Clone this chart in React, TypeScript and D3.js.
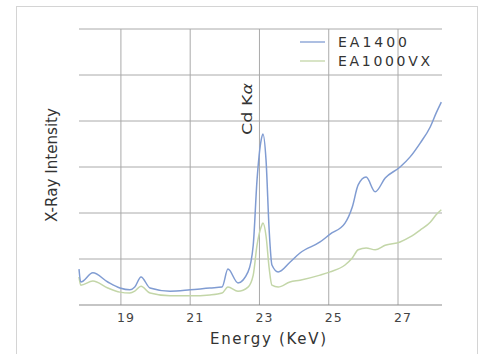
import { useEffect, useRef } from "react";
import * as d3 from "d3";

// energy (KeV) sample positions
const energy = [
  17.79, 17.84, 18.19, 18.62, 18.97, 19.26, 19.4, 19.58, 19.84, 20.42, 21.0,
  21.57, 21.92, 22.09, 22.38, 22.67, 22.82, 22.93, 23.05, 23.1, 23.19, 23.28,
  23.36, 23.54, 23.88, 24.17, 24.75, 25.04, 25.47, 25.68, 25.85, 26.08, 26.34,
  26.63, 27.06, 27.35, 27.64, 27.93, 28.1, 28.25,
];

const ea1400 = [
  0.78, 0.5, 0.7, 0.5, 0.37, 0.33, 0.39, 0.61, 0.37, 0.3, 0.33, 0.37, 0.39,
  0.78, 0.48, 0.72, 1.3, 2.72, 3.59, 3.72, 3.15, 1.63, 0.87, 0.72, 0.93, 1.13,
  1.37, 1.54, 1.78, 2.13, 2.61, 2.78, 2.46, 2.76, 3.0, 3.22, 3.52, 3.87, 4.17,
  4.41,
];

const ea1000vx = [
  0.61, 0.43, 0.52, 0.37, 0.28, 0.26, 0.3, 0.41, 0.26, 0.2, 0.2, 0.22, 0.26,
  0.39, 0.3, 0.39, 0.65, 1.3, 1.7, 1.78, 1.5, 0.8, 0.43, 0.39, 0.5, 0.54, 0.65,
  0.72, 0.87, 1.02, 1.2, 1.24, 1.2, 1.3, 1.37, 1.48, 1.63, 1.8, 1.96, 2.07,
];

const xTicks = [19, 21, 23, 25, 27];
const yGrid = [0, 1, 2, 3, 4, 5, 6];

const seriesNames = ["EA1400", "EA1000VX"];
const seriesColors = ["#809cd2", "#c3d6a8"];

const W = 482;
const H = 354;
const FONT = "DejaVu Sans, Verdana, sans-serif";

export default function App() {
  const svgRef = useRef<SVGSVGElement>(null);

  useEffect(() => {
    const svg = d3.select(svgRef.current);
    svg.selectAll("*").remove();

    const x = d3.scaleLinear().domain([17.79, 28.27]).range([79, 442]);
    const y = d3.scaleLinear().domain([0, 6]).range([305, 29]);

    // outer frame
    svg
      .append("rect")
      .attr("x", 16.5)
      .attr("y", 6.5)
      .attr("width", 461)
      .attr("height", 360)
      .attr("fill", "#fff")
      .attr("stroke", "#d4d4d4");

    // grid
    svg
      .append("g")
      .selectAll("line")
      .data(yGrid.slice(1))
      .enter()
      .append("line")
      .attr("x1", x.range()[0])
      .attr("x2", x.range()[1])
      .attr("y1", (d) => y(d))
      .attr("y2", (d) => y(d))
      .attr("stroke", "#aaaaaa")
      .attr("stroke-width", 1);

    svg
      .append("g")
      .selectAll("line")
      .data(xTicks)
      .enter()
      .append("line")
      .attr("x1", (d) => x(d))
      .attr("x2", (d) => x(d))
      .attr("y1", y(6))
      .attr("y2", y(0))
      .attr("stroke", "#aaaaaa")
      .attr("stroke-width", 1);

    // bottom axis line
    svg
      .append("line")
      .attr("x1", x.range()[0])
      .attr("x2", x.range()[1])
      .attr("y1", y(0))
      .attr("y2", y(0))
      .attr("stroke", "#8c8c8c")
      .attr("stroke-width", 1.2);

    // tick labels (sit a little right of their gridlines in the original)
    svg
      .append("g")
      .selectAll("text")
      .data(xTicks)
      .enter()
      .append("text")
      .attr("x", (d) => x(d) + 5)
      .attr("y", 322)
      .attr("text-anchor", "middle")
      .attr("font-family", FONT)
      .attr("font-size", 12.5)
      .attr("letter-spacing", 1)
      .attr("fill", "#444")
      .text((d) => d);

    // axis titles
    svg
      .append("text")
      .attr("x", 210)
      .attr("y", 344)
      .attr("font-family", FONT)
      .attr("font-size", 15)
      .attr("textLength", 116)
      .attr("lengthAdjust", "spacing")
      .attr("fill", "#333")
      .text("Energy (KeV)");

    svg
      .append("text")
      .attr("transform", "translate(57,222) rotate(-90)")
      .attr("font-family", FONT)
      .attr("font-size", 15)
      .attr("textLength", 114)
      .attr("lengthAdjust", "spacingAndGlyphs")
      .attr("fill", "#333")
      .text("X-Ray Intensity");

    // lines
    const line = d3
      .line<number>()
      .x((_, i) => x(energy[i]))
      .y((d) => y(d))
      .curve(d3.curveMonotoneX);

    [ea1000vx, ea1400].forEach((vals, k) => {
      svg
        .append("path")
        .attr("d", line(vals))
        .attr("fill", "none")
        .attr("stroke", seriesColors[1 - k])
        .attr("stroke-width", 1.5);
    });

    // peak label
    const lab = svg
      .append("text")
      .attr("transform", `translate(252,135) rotate(-90)`)
      .attr("font-family", FONT)
      .attr("font-size", 14)
      .attr("textLength", 52)
      .attr("lengthAdjust", "spacingAndGlyphs")
      .attr("fill", "#333");
    lab.append("tspan").text("Cd K");
    lab.append("tspan").attr("font-style", "italic").text("α");

    // legend
    const leg = svg
      .append("g")
      .selectAll("g")
      .data(seriesNames)
      .enter()
      .append("g")
      .attr("transform", (_, i) => `translate(300,${42 + i * 19})`);
    leg
      .append("line")
      .attr("x1", 0)
      .attr("x2", 25)
      .attr("stroke", (_, i) => seriesColors[i])
      .attr("stroke-width", 1.3);
    leg
      .append("text")
      .attr("x", 38)
      .attr("y", 5)
      .attr("font-family", FONT)
      .attr("font-size", 14)
      .attr("textLength", (_, i) => (i === 0 ? 69 : 92))
      .attr("lengthAdjust", "spacing")
      .attr("fill", "#333")
      .text((d) => d);
  }, []);

  return (
    <svg
      ref={svgRef}
      width={W}
      height={H}
      style={{ position: "absolute", left: 0, top: 0, background: "#fff" }}
    />
  );
}
